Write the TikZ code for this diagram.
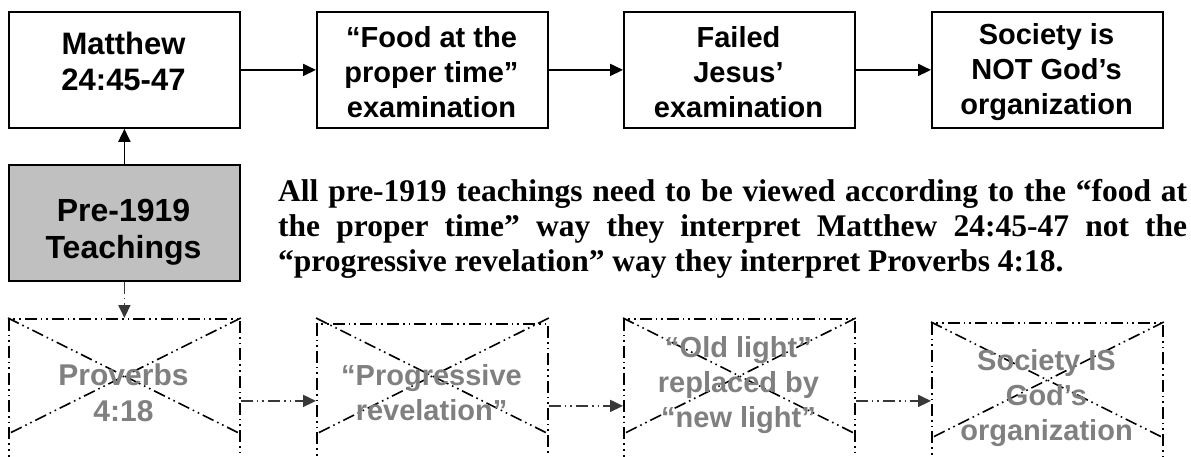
\documentclass[tikz,border=0pt]{standalone}
\usepackage{fontspec}
\setmainfont{Liberation Serif}
\newfontfamily\arialfont{Liberation Sans}
\usetikzlibrary{arrows.meta}
\definecolor{boxgray}{HTML}{C0C0C0}
\definecolor{txtgray}{HTML}{808080}
\definecolor{arrgray}{HTML}{383838}
\begin{document}
\begin{tikzpicture}[x=1pt,y=-1pt,
  topbox/.style={draw=black,line width=1.8pt,minimum width=231pt,minimum height=116pt,inner sep=0pt,anchor=north west},
  crossbox/.style={draw=black,line width=1.8pt,minimum width=231pt,minimum height=164pt,inner sep=0pt,anchor=north west,dddash},
  dddash/.style={dash pattern=on 12pt off 4pt on 1.6pt off 4pt on 1.6pt off 4pt},
  toptext/.style={align=center,inner sep=0pt,font=\arialfont\bfseries\fontsize{29}{35}\selectfont},
  bigtext/.style={align=center,inner sep=0pt,font=\arialfont\bfseries\fontsize{31}{36}\selectfont},
  greytext/.style={toptext,text=txtgray},
  arr/.style={line width=1.8pt,-{Triangle[length=13pt,width=12pt]}},
  darr/.style={line width=1.8pt,draw=arrgray,dddash,-{Triangle[length=13pt,width=12pt,fill=arrgray]}},
  xline/.style={line width=1.6pt,dddash},
  para/.style={inner sep=0pt,anchor=base west,font=\bfseries\fontsize{31.5}{35}\selectfont}
]
\useasboundingbox (0,0) rectangle (1191,456);
\clip (0,0) rectangle (1191,456);
% top row
\node[topbox] (m1) at (8,11) {};
\node[topbox] (m2) at (316,11) {};
\node[topbox] (m3) at (623,11) {};
\node[topbox] (m4) at (931,11) {};
\node[bigtext] (tm1) at (123.5,61) {Matthew\\24:45-47};
\node[toptext] (tm2) at (431.5,72) {“Food at the\\proper time”\\examination};
\node[toptext] (tm3) at (738.5,72) {Failed\\Jesus’\\examination};
\node[toptext] (tm4) at (1046.5,72) {Society is\\NOT God’s\\organization};
\draw[arr] (m1.east) -- (m2.west);
\draw[arr] (m2.east) -- (m3.west);
\draw[arr] (m3.east) -- (m4.west);
% pre-1919
\node[topbox,fill=boxgray] (pre) at (8,164) {};
\node[bigtext,font=\arialfont\bfseries\fontsize{32}{37}\selectfont] (tpre) at (123.5,232) {Pre-1919\\Teachings};
\draw[arr] (pre.north) -- (m1.south);
% paragraph
\node[para] (p1) at (278,201) {\makebox[909pt][s]{All pre-1919 teachings need to be viewed according to the “food at}};
\node[para] (p2) at (278,236) {\makebox[909pt][s]{the proper time” way they interpret Matthew 24:45-47 not the}};
\node[para] (p3) at (278,271) {“progressive revelation” way they interpret Proverbs 4:18.};
% bottom row
\node[crossbox] (b1) at (8,318) {};
\node[crossbox] (b2) at (316,323) {};
\node[crossbox] (b3) at (623,318) {};
\node[crossbox] (b4) at (931,322) {};
\foreach \b/\s in {b1/0,b2/5,b3/0,b4/0}{
  \draw[xline] ([yshift=\s pt]\b.north west) -- ([yshift=\s pt-116pt]\b.north east);
  \draw[xline] ([yshift=\s pt]\b.north east) -- ([yshift=\s pt-116pt]\b.north west);
}
\node[greytext,font=\arialfont\bfseries\fontsize{30}{36}\selectfont] (tb1) at (123.5,393) {Proverbs\\4:18};
\node[greytext] (tb2) at (431.5,393) {“Progressive\\revelation”};
\node[greytext] (tb3) at (738.5,385) {“Old light”\\replaced by\\“new light”};
\node[greytext] (tb4) at (1046.5,398) {Society IS\\God’s\\organization};
\draw[darr] (pre.south) -- (b1.north);
\draw[darr] (b1.east) -- (b1.east -| b2.west);
\draw[darr] (b2.east) -- (b2.east -| b3.west);
\draw[darr] (b3.east) -- (b3.east -| b4.west);
\end{tikzpicture}
\end{document}
